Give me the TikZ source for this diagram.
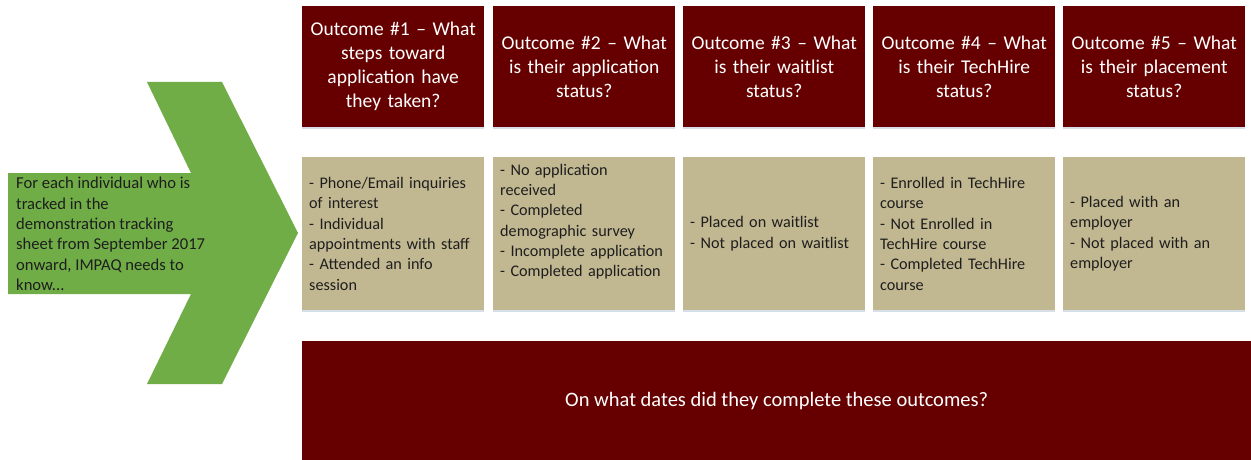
\documentclass[tikz,border=0pt]{standalone}
\usepackage{fontspec}
\setmainfont{Carlito}
\usetikzlibrary{shadows}
\definecolor{maroon}{HTML}{660000}
\definecolor{tanbox}{HTML}{C1B791}
\definecolor{arrowgreen}{HTML}{70AD47}
\definecolor{shadowc}{HTML}{D6DEE8}
\definecolor{darktext}{HTML}{1E1E1E}
\begin{document}
\begin{tikzpicture}[x=1pt,y=-1pt,
  boxshadow/.style={drop shadow={shadow xshift=0pt,shadow yshift=-2pt,fill=shadowc,opacity=1}},
  hdr/.style={boxshadow,fill=maroon,text=white,align=center,
    font=\fontsize{19.5}{24}\selectfont,inner xsep=2pt,inner ysep=0pt,
    text width=178pt,minimum height=121pt,anchor=north west},
  tanb/.style={boxshadow,fill=tanbox,text=darktext,align=left,
    font=\fontsize{16.2}{20.3}\selectfont,inner xsep=7pt,inner ysep=0pt,
    text width=168pt,minimum height=153pt,anchor=north west},
  bigbox/.style={fill=maroon,text=white,align=center,
    font=\fontsize{20.5}{24}\selectfont,inner sep=0pt,
    minimum width=949pt,minimum height=119pt,anchor=north west},
  arrowtext/.style={text=darktext,align=left,anchor=west,inner sep=0pt,
    font=\fontsize{16.6}{20.3}\selectfont}
]
\useasboundingbox (0,0) rectangle (1251,460);
\fill[white] (0,0) rectangle (1251,460);

% green arrow
\fill[arrowgreen] (8,173) -- (191,173) -- (147,82) -- (222,82) -- (298,233)
  -- (222,384) -- (147,384) -- (191,294) -- (8,294) -- cycle;
\node[arrowtext] (intro) at (16,234) {For each individual who is\\tracked in the\\demonstration tracking\\sheet from September 2017\\onward, IMPAQ needs to\\know...};

% header boxes
\node[hdr] (h1) at (302,6) {Outcome \#1 – What\\steps toward\\application have\\they taken?};
\node[hdr] (h2) at (493,6) {Outcome \#2 – What\\is their application\\status?};
\node[hdr] (h3) at (683,6) {Outcome \#3 – What\\is their waitlist\\status?};
\node[hdr] (h4) at (873,6) {Outcome \#4 – What\\is their TechHire\\status?};
\node[hdr] (h5) at (1063,6) {Outcome \#5 – What\\is their placement\\status?};

% detail boxes
\node[tanb] (d1) at (302,157) {- Phone/Email inquiries\\of interest\\- Individual\\appointments with staff\\- Attended an info\\session};
\node[tanb] (d2) at (493,157) {- No application\\received\\- Completed\\demographic survey\\- Incomplete application\\- Completed application\\\strut};
\node[tanb] (d3) at (683,157) {- Placed on waitlist\\- Not placed on waitlist};
\node[tanb] (d4) at (873,157) {- Enrolled in TechHire\\course\\- Not Enrolled in\\TechHire course\\- Completed TechHire\\course};
\node[tanb] (d5) at (1063,157) {- Placed with an\\employer\\- Not placed with an\\employer};

% bottom box
\node[bigbox] (dates) at (302,341) {On what dates did they complete these outcomes?};
\end{tikzpicture}
\end{document}
